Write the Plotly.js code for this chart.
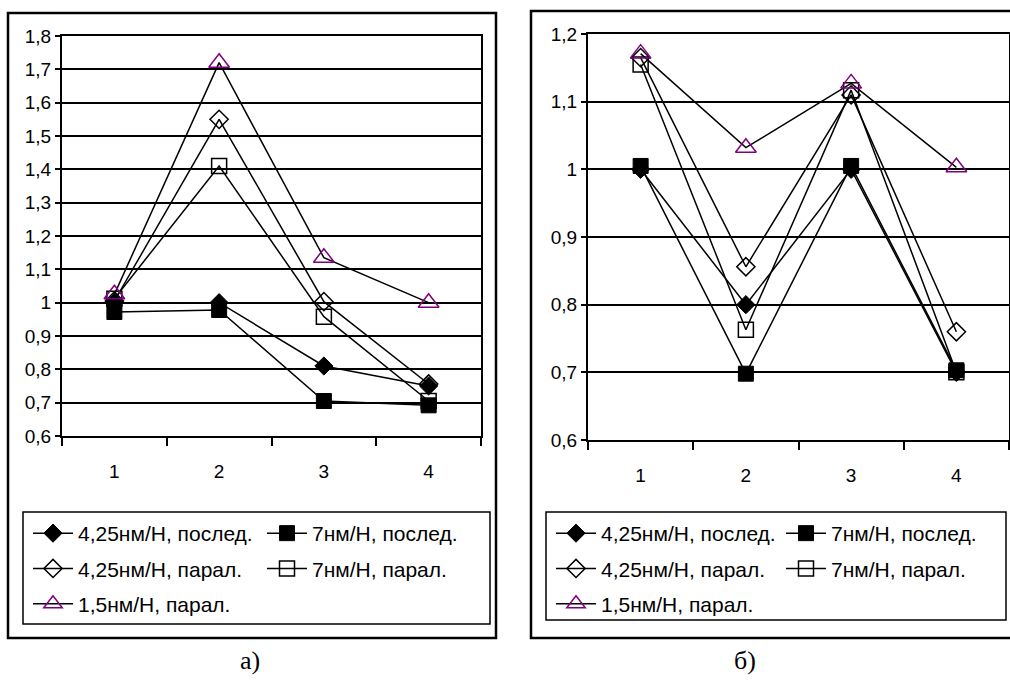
<!DOCTYPE html>
<html><head><meta charset="utf-8">
<script src="https://cdn.plot.ly/plotly-3.0.1.min.js"></script>
<style>html,body{margin:0;padding:0;background:#fff}</style>
</head><body><div id="chart" style="width:1010px;height:682px"></div>
<script>
// ---- data ----
const categories = [1, 2, 3, 4];
const xTickLabels = ['1', '2', '3', '4'];
const seriesNames = ['4,25нм/Н, послед.', '7нм/Н, послед.', '4,25нм/Н, парал.', '7нм/Н, парал.', '1,5нм/Н, парал.'];
// panel а)
const a_s1 = [1.0, 1.0, 0.81, 0.75];
const a_s2 = [0.972, 0.978, 0.705, 0.692];
const a_s3 = [1.005, 1.55, 1.003, 0.756];
const a_s4 = [1.012, 1.41, 0.958, 0.705];
const a_s5 = [1.025, 1.72, 1.135, 1.0];
// panel б)
const b_s1 = [1.0, 0.80, 1.0, 0.70];
const b_s2 = [1.005, 0.698, 1.005, 0.703];
const b_s3 = [1.165, 0.856, 1.11, 0.76];
const b_s4 = [1.155, 0.763, 1.117, 0.70];
const b_s5 = [1.171, 1.032, 1.127, 1.003];
const panelLabels = ['а)', 'б)'];

// ---- styles ----
const W = 1010, H = 682;
const FONT = '"Liberation Sans", Arial, sans-serif';
const PURPLE = '#800080';
const styles = [
  {symbol: 'diamond', size: 14, color: '#000', lc: '#000', lw: 1},
  {symbol: 'square', size: 15, color: '#000', lc: '#000', lw: 1},
  {symbol: 'diamond-open', size: 14, color: '#000', lc: '#000', lw: 1.5},
  {symbol: 'square-open', size: 15, color: '#000', lc: '#000', lw: 1.5},
  {symbol: 'triangle-up-open', size: 18, color: PURPLE, lc: PURPLE, lw: 1.5}
];
const legendCol = ['', 'b', '', 'b', ''];

function px(x) { return x / W; }
function py(y) { return 1 - y / H; }

function makeTraces(data, xa, ya, legA, legB, pfx) {
  return data.map((vals, i) => ({
    type: 'scatter', mode: 'lines+markers',
    x: categories, y: vals, xaxis: xa, yaxis: ya,
    name: seriesNames[i],
    legend: legendCol[i] === 'b' ? legB : legA,
    legendgroup: pfx + i,
    line: {color: '#000', width: 1.5},
    marker: {symbol: styles[i].symbol, size: styles[i].size, color: styles[i].color,
             line: {color: styles[i].lc, width: styles[i].lw}}
  }));
}

const traces = [
  ...makeTraces([a_s1, a_s2, a_s3, a_s4, a_s5], 'x', 'y', 'legend', 'legend2', 'a'),
  ...makeTraces([b_s1, b_s2, b_s3, b_s4, b_s5], 'x2', 'y2', 'legend3', 'legend4', 'b')
];

function xaxisDef(dom, anchor) {
  return {
    domain: dom, anchor: anchor, range: [0.5, 4.5], fixedrange: true,
    tickmode: 'array', tickvals: categories, ticktext: xTickLabels,
    ticks: '', ticklabelstandoff: 17,
    tickfont: {family: FONT, size: 19, color: '#000'},
    showgrid: false, zeroline: false,
    showline: true, linecolor: '#000', linewidth: 2, mirror: true,
    minor: {tickmode: 'linear', tick0: 0.5, dtick: 1, ticks: 'outside', ticklen: 8, tickwidth: 2, tickcolor: '#000', showgrid: false}
  };
}
function yaxisDef(dom, range, anchor) {
  return {
    domain: dom, anchor: anchor, range: range, fixedrange: true,
    tickmode: 'linear', tick0: 0.6, dtick: 0.1,
    ticks: 'outside', ticklen: 5, tickwidth: 2, tickcolor: '#000',
    tickfont: {family: FONT, size: 19, color: '#000'},
    showgrid: true, gridcolor: '#000', gridwidth: 2, zeroline: false,
    showline: true, linecolor: '#000', linewidth: 2, mirror: true
  };
}
function legendDef(xp, yp) {
  return {
    x: px(xp), y: py(yp), xanchor: 'left', yanchor: 'top',
    orientation: 'v', bgcolor: 'rgba(0,0,0,0)', borderwidth: 0,
    font: {family: FONT, size: 21, color: '#000'},
    itemwidth: 40, itemsizing: 'trace', tracegroupgap: 5,
    traceorder: 'grouped'
  };
}

const labelFont = {family: '"Liberation Serif", "Times New Roman", serif', size: 26, color: '#000'};

const layout = {
  width: W, height: H,
  margin: {l: 0, r: 0, t: 0, b: 0},
  paper_bgcolor: '#fff', plot_bgcolor: '#fff',
  separators: ',.',
  showlegend: true,
  xaxis: xaxisDef([px(62), px(481)], 'y'),
  yaxis: yaxisDef([py(436), py(36)], [0.6, 1.8], 'x'),
  xaxis2: xaxisDef([px(588), px(1009)], 'y2'),
  yaxis2: yaxisDef([py(440), py(34)], [0.6, 1.2], 'x2'),
  legend: legendDef(28, 513),
  legend2: legendDef(262, 513),
  legend3: legendDef(551, 513),
  legend4: legendDef(781, 513),
  shapes: [
    {type: 'rect', xref: 'paper', yref: 'paper', x0: px(8), x1: px(496), y0: py(638), y1: py(13), line: {color: '#000', width: 2.5}, layer: 'below'},
    {type: 'rect', xref: 'paper', yref: 'paper', x0: px(531), x1: px(1014), y0: py(638), y1: py(11), line: {color: '#000', width: 2.5}, layer: 'below'},
    {type: 'rect', xref: 'paper', yref: 'paper', x0: px(23), x1: px(490), y0: py(624), y1: py(512), line: {color: '#000', width: 1.5}, layer: 'below'},
    {type: 'rect', xref: 'paper', yref: 'paper', x0: px(546), x1: px(1006), y0: py(620), y1: py(512), line: {color: '#000', width: 1.5}, layer: 'below'}
  ],
  annotations: [
    {xref: 'paper', yref: 'paper', x: px(250), y: py(660), yanchor: 'middle', xanchor: 'center', text: panelLabels[0], showarrow: false, font: labelFont},
    {xref: 'paper', yref: 'paper', x: px(745), y: py(660), yanchor: 'middle', xanchor: 'center', text: panelLabels[1], showarrow: false, font: labelFont}
  ]
};

Plotly.newPlot('chart', traces, layout, {staticPlot: true, displayModeBar: false});
</script>
</body></html>
